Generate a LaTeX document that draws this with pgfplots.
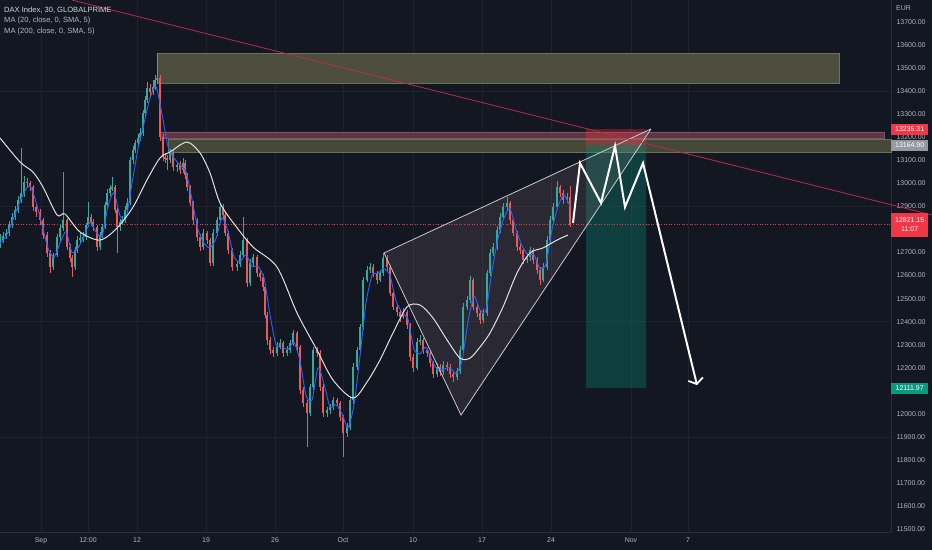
\documentclass[border=0pt]{standalone}
\usepackage{pgfplots}
\usepackage{pgfplotstable}
\pgfplotsset{compat=1.18}
\usetikzlibrary{arrows.meta}
\usepackage{fontspec}
\setmainfont{Liberation Sans}
\definecolor{bg}{RGB}{19,23,34}
\definecolor{txtcol}{RGB}{178,181,190}
\definecolor{legcol}{RGB}{209,212,220}
\definecolor{axcol}{RGB}{42,46,57}
\definecolor{gridcol}{RGB}{30,34,45}
\definecolor{upcol}{RGB}{50,170,158}
\definecolor{dncol}{RGB}{235,90,88}
\definecolor{mablue}{RGB}{41,98,255}
\definecolor{mawhite}{RGB}{225,225,228}
\definecolor{olivefill}{RGB}{76,77,60}
\definecolor{olivedraw}{RGB}{105,114,96}
\definecolor{olive2}{RGB}{70,72,55}
\definecolor{redband}{RGB}{96,52,68}
\definecolor{redbanddraw}{RGB}{125,85,95}
\definecolor{tvred}{RGB}{242,54,69}
\definecolor{tvgreen}{RGB}{8,153,129}
\definecolor{trendcol}{RGB}{185,45,70}
\definecolor{wedgeline}{RGB}{200,200,205}
\definecolor{wedgefill}{RGB}{160,135,135}
\definecolor{graylbl}{RGB}{150,153,162}

\pgfplotstableread{
x o h l c
0 12740 12780 12720 12754
3 12754 12790 12740 12772
6 12772 12800 12760 12785
9 12785 12835 12770 12819
12 12819 12870 12805 12854
15 12854 12900 12840 12884
18 12884 12945 12870 12928
21 12928 13153 12915 12958
24 12958 13030 12940 13006
27 13006 13025 12980 13002
30 13002 13010 12965 12984
33 12984 12995 12880 12897
36 12897 12910 12855 12876
40 12876 12890 12820 12841
43 12841 12850 12760 12776
47 12776 12790 12680 12698
50 12698 12710 12611 12637
53 12637 12700 12625 12689
57 12689 12780 12680 12767
60 12767 12820 12750 12806
63 12806 13049 12795 12841
67 12841 12850 12710 12724
70 12724 12735 12660 12676
72 12676 12690 12594 12637
75 12637 12725 12625 12711
77 12711 12770 12700 12754
80 12754 12785 12740 12763
83 12763 12790 12745 12767
86 12767 12830 12755 12819
88 12819 12919 12810 12854
91 12854 12865 12815 12832
93 12832 12845 12795 12811
97 12811 12820 12705 12724
100 12724 12790 12710 12776
102 12776 12825 12765 12811
105 12811 12920 12800 12906
107 12906 12975 12895 12958
110 12958 12995 12945 12980
112 12980 13028 12965 12984
115 12984 12995 12870 12884
117 12884 12895 12698 12811
120 12811 12845 12795 12832
122 12832 12860 12825 12841
125 12841 12900 12830 12884
127 12884 12935 12870 12915
130 12915 13115 12905 13101
133 13101 13160 13085 13145
135 13145 13190 13130 13175
138 13175 13215 13160 13197
140 13197 13240 13185 13218
143 13218 13320 13205 13305
145 13305 13380 13290 13362
147 13362 13440 13350 13414
150 13414 13430 13380 13396
153 13396 13450 13385 13418
155 13418 13470 13405 13448
157 13448 13565 13430 13457
160 13457 13470 13185 13201
163 13201 13215 13095 13114
165 13114 13130 13090 13110
167 13110 13125 13058 13101
170 13101 13150 13090 13132
173 13132 13145 13055 13071
177 13071 13090 13050 13080
180 13080 13095 13040 13058
183 13058 13110 13045 13088
185 13088 13100 13020 13036
187 13036 13045 12965 12984
190 12984 12995 12900 12915
193 12915 12925 12825 12841
197 12841 12850 12750 12767
200 12767 12780 12705 12724
203 12724 12800 12710 12785
207 12785 12795 12735 12754
210 12754 12765 12640 12655
213 12655 12800 12640 12785
217 12785 12855 12770 12841
220 12841 12915 12830 12897
223 12897 12910 12845 12863
225 12863 12875 12770 12785
228 12785 12795 12695 12711
232 12711 12720 12620 12637
237 12637 12665 12620 12650
240 12650 12705 12635 12689
243 12689 12854 12680 12754
247 12754 12765 12550 12568
250 12568 12670 12555 12655
253 12655 12695 12640 12681
257 12681 12690 12595 12611
260 12611 12620 12575 12594
263 12594 12605 12535 12550
265 12550 12560 12415 12429
267 12429 12440 12300 12321
270 12321 12335 12260 12277
273 12277 12290 12245 12264
277 12264 12310 12250 12290
280 12290 12325 12280 12307
283 12307 12315 12245 12264
287 12264 12295 12250 12277
290 12277 12320 12265 12307
293 12307 12365 12295 12351
297 12351 12360 12275 12290
300 12290 12300 12085 12104
303 12104 12115 12030 12047
307 12047 12060 11856 12004
310 12004 12130 11990 12117
313 12117 12290 12105 12277
317 12277 12290 12245 12264
320 12264 12275 12100 12117
323 12117 12130 11985 12004
327 12004 12030 11985 12015
330 12015 12045 12000 12030
333 12030 12075 12015 12060
337 12060 12070 12030 12047
340 12047 12055 11970 11986
343 11986 11995 11813 11917
347 11917 11960 11900 11943
350 11943 12075 11930 12060
353 12060 12220 12045 12204
357 12204 12290 12190 12277
360 12277 12390 12265 12377
363 12377 12595 12365 12581
367 12581 12640 12570 12624
370 12624 12655 12610 12637
373 12637 12650 12595 12611
377 12611 12620 12565 12581
380 12581 12625 12570 12611
383 12611 12698 12600 12676
387 12676 12690 12620 12637
390 12637 12645 12510 12524
393 12524 12535 12450 12464
397 12464 12475 12425 12442
400 12442 12455 12400 12420
403 12420 12460 12410 12442
407 12442 12450 12370 12386
410 12386 12395 12230 12247
413 12247 12260 12180 12199
417 12199 12330 12190 12312
420 12312 12340 12300 12321
423 12321 12330 12260 12277
427 12277 12285 12245 12264
430 12264 12275 12205 12221
433 12221 12230 12155 12173
437 12173 12220 12160 12204
440 12204 12215 12165 12182
443 12182 12230 12170 12212
447 12212 12225 12185 12204
450 12204 12215 12155 12173
453 12173 12185 12140 12160
457 12160 12200 12145 12186
460 12186 12295 12175 12277
463 12277 12480 12265 12464
467 12464 12510 12450 12494
470 12494 12600 12480 12581
473 12581 12590 12450 12464
477 12464 12475 12420 12438
480 12438 12450 12390 12407
483 12407 12455 12395 12438
487 12438 12625 12425 12611
490 12611 12715 12600 12698
493 12698 12740 12685 12724
497 12724 12815 12710 12798
500 12798 12870 12785 12854
503 12854 12915 12840 12897
507 12897 12940 12880 12915
510 12915 12925 12825 12841
513 12841 12850 12770 12785
517 12785 12795 12705 12724
520 12724 12735 12695 12711
523 12711 12720 12650 12668
527 12668 12700 12655 12681
530 12681 12725 12665 12711
533 12711 12720 12650 12668
537 12668 12680 12605 12624
540 12624 12635 12560 12581
543 12581 12655 12570 12637
547 12637 12770 12625 12754
550 12754 12860 12740 12841
553 12841 12915 12830 12897
557 12897 13010 12885 12984
560 12984 12995 12940 12958
563 12958 12970 12910 12928
567 12928 12960 12915 12941
570 12941 12990 12810 12821
}\candles

\begin{document}
\begin{tikzpicture}
\fill[bg] (0,0) rectangle (932bp,550bp);
\begin{axis}[
  at={(0,18bp)}, anchor=south west, scale only axis,
  width=891bp, height=532bp,
  xmin=0, xmax=891, ymin=11487.6, ymax=13795.4,
  clip=false,
  axis x line*=bottom, axis y line*=right,
  axis line style={draw=axcol, line width=0.8bp, -},
  major tick length=0pt,
  xtick={41,88,137,206,275,343,413,482,551,631,688},
  xticklabels={Sep,12:00,12,19,26,Oct,10,17,24,Nov,7},
  ytick={11500,11600,11700,11800,11900,12000,12200,12300,12400,12500,12600,12700,12900,13000,13100,13200,13300,13400,13500,13600,13700},
  scaled y ticks=false,
  yticklabel style={/pgf/number format/fixed, /pgf/number format/fixed zerofill, /pgf/number format/precision=2, /pgf/number format/1000 sep={}, /pgf/number format/assume math mode=true, xshift=2bp},
  tick label style={font=\fontsize{7}{8}\selectfont, text=txtcol},
  xticklabel style={yshift=-2.5bp},
  xmajorgrids,
  extra y ticks={11900,12400,12900,13400}, extra y tick labels={},
  extra tick style={grid=major},
  major grid style={draw=gridcol, line width=0.6bp},
]
% zones
\addplot[fill=olivefill, draw=olivedraw, line width=0.6bp] coordinates {(157,13435)(839,13435)(839,13565)(157,13565)(157,13435)};
\addplot[fill=redband, draw=redbanddraw, line width=0.6bp] coordinates {(160,13197)(884,13197)(884,13223)(160,13223)(160,13197)};
\addplot[fill=olive2, draw=olivedraw, line width=0.6bp] coordinates {(168,13136)(891,13136)(891,13192)(168,13192)(168,13136)};
% short position tool
\addplot[fill=tvred, fill opacity=0.32, draw=none] coordinates {(586,13164.90)(646,13164.90)(646,13235.31)(586,13235.31)(586,13164.90)};
\addplot[fill=tvgreen, fill opacity=0.3, draw=none] coordinates {(586,12111.97)(646,12111.97)(646,13164.90)(586,13164.90)(586,12111.97)};
% wedge fill
\addplot[fill=wedgefill, fill opacity=0.17, draw=none] coordinates {(384,12698)(461,11995)(651,13236)(384,12698)};
% price line
\addplot[tvred, dotted, line width=0.6bp] coordinates {(0,12821.15)(891,12821.15)};
% candles: wicks
\addplot[forget plot, draw=none, mark=none, error bars/.cd, y dir=both, y explicit, error mark=none, error bar style={draw=upcol, line width=0.5bp}]
  table[x=x, y expr={\thisrow{c}>=\thisrow{o} ? (\thisrow{h}+\thisrow{l})/2 : nan}, y error expr={(\thisrow{h}-\thisrow{l})/2}] {\candles};
\addplot[forget plot, draw=none, mark=none, error bars/.cd, y dir=both, y explicit, error mark=none, error bar style={draw=dncol, line width=0.5bp}]
  table[x=x, y expr={\thisrow{c}<\thisrow{o} ? (\thisrow{h}+\thisrow{l})/2 : nan}, y error expr={(\thisrow{h}-\thisrow{l})/2}] {\candles};
% candles: bodies
\addplot[forget plot, draw=none, mark=none, error bars/.cd, y dir=both, y explicit, error mark=none, error bar style={draw=upcol, line width=1.5bp}]
  table[x=x, y expr={\thisrow{c}>=\thisrow{o} ? (\thisrow{o}+\thisrow{c})/2 : nan}, y error expr={max(abs(\thisrow{c}-\thisrow{o})/2,3)}] {\candles};
\addplot[forget plot, draw=none, mark=none, error bars/.cd, y dir=both, y explicit, error mark=none, error bar style={draw=dncol, line width=1.5bp}]
  table[x=x, y expr={\thisrow{c}<\thisrow{o} ? (\thisrow{o}+\thisrow{c})/2 : nan}, y error expr={max(abs(\thisrow{c}-\thisrow{o})/2,3)}] {\candles};
% MA 20 (blue)
\addplot[mablue, line width=0.9bp, smooth, tension=0.4] coordinates {
(0,12740)(6,12770)(12,12830)(18,12900)(24,12960)(30,12990)(36,12920)(42,12820)(48,12720)(54,12680)(60,12740)(66,12790)(72,12700)(78,12720)(84,12770)(90,12830)(96,12790)(102,12770)(108,12900)(114,12960)(120,12860)(126,12850)(132,13000)(138,13150)(144,13260)(150,13370)(156,13420)(162,13300)(168,13160)(174,13110)(180,13080)(186,13050)(192,12930)(198,12800)(204,12740)(210,12720)(216,12760)(222,12850)(228,12790)(234,12680)(240,12660)(246,12690)(252,12640)(258,12640)(264,12590)(270,12430)(276,12300)(282,12290)(288,12280)(294,12310)(300,12230)(306,12080)(312,12060)(318,12200)(324,12130)(330,12030)(336,12040)(342,12000)(348,11940)(354,12040)(360,12250)(366,12480)(372,12600)(378,12610)(384,12630)(390,12600)(396,12490)(402,12440)(408,12410)(414,12280)(420,12260)(426,12290)(432,12230)(438,12190)(444,12195)(450,12200)(456,12175)(462,12230)(468,12400)(474,12510)(480,12450)(486,12450)(492,12620)(498,12760)(504,12850)(510,12890)(516,12800)(522,12730)(528,12690)(534,12690)(540,12630)(546,12650)(552,12800)(558,12900)(564,12950)(570,12900)};
% MA 200 (white)
\addplot[mawhite, line width=1bp, smooth] coordinates {
(0,13197)(20,13093)(33,13049)(43,12984)(57,12863)(65,12867)(80,12789)(100,12754)(117,12806)(133,12897)(147,13015)(160,13110)(170,13136)(187,13179)(200,13132)(210,13045)(220,12915)(235,12819)(253,12724)(277,12637)(297,12438)(317,12277)(333,12147)(353,12069)(367,12138)(380,12234)(393,12351)(407,12464)(420,12472)(433,12416)(447,12321)(460,12242)(470,12242)(480,12290)(490,12351)(503,12464)(517,12611)(530,12698)(543,12720)(557,12754)(568,12776)};
% wedge lines
\addplot[wedgeline, line width=0.8bp] coordinates {(651,13236)(384,12698)(461,11995)(651,13236)};
% red trend line
\addplot[trendcol, line width=0.8bp] coordinates {(72,13795)(932,12863)};
% projection zigzag
\addplot[white, line width=2bp, -{Straight Barb[length=5bp, width=15bp, line width=1.8bp]}] coordinates {(573,12828)(580,13088)(601,12915)(615,13162)(625,12897)(643,13088)(697,12125)};
\coordinate (pA) at (axis cs:891,13235.31);
\coordinate (pB) at (axis cs:891,13164.90);
\coordinate (pC) at (axis cs:891,12821.15);
\coordinate (pD) at (axis cs:891,12111.97);
\end{axis}
\begin{scope}[every node/.style={anchor=west, inner sep=0pt, minimum width=37bp, font=\fontsize{7}{8}\selectfont, text=white}]
\node[fill=tvred, minimum height=11bp] at (pA) {13235.31};
\node[fill=graylbl, minimum height=11bp] at (pB) {13164.90};
\node[fill=tvred, minimum height=24bp, align=center] at (pC) {12821.15\\[0.5bp]11:07};
\node[fill=tvgreen, minimum height=11bp] at (pD) {12111.97};
\end{scope}
\node[anchor=west, font=\fontsize{7}{8}\selectfont, text=txtcol, inner sep=0pt] at (896bp,542bp) {EUR};
\node[anchor=west, font=\fontsize{7.6}{9}\selectfont, text=legcol, inner sep=0pt] at (4bp,540bp) {DAX Index, 30, GLOBALPRIME};
\node[anchor=west, font=\fontsize{7.6}{9}\selectfont, text=txtcol, inner sep=0pt] at (4bp,529bp) {MA (20, close, 0, SMA, 5)};
\node[anchor=west, font=\fontsize{7.6}{9}\selectfont, text=txtcol, inner sep=0pt] at (4bp,518bp) {MA (200, close, 0, SMA, 5)};
\pgfresetboundingbox
\useasboundingbox (0,0) rectangle (932bp,550bp);
\end{tikzpicture}
\end{document}
